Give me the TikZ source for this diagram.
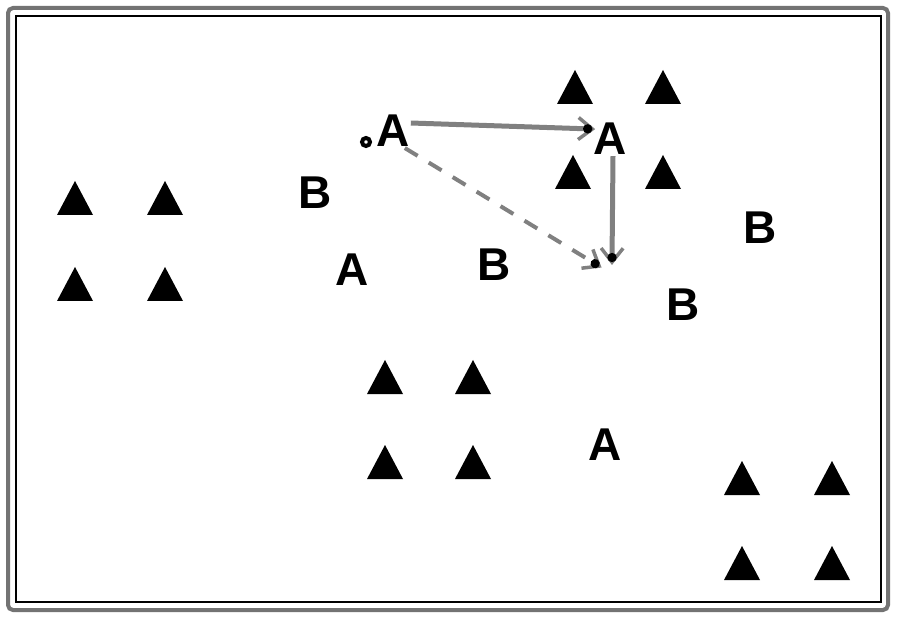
\documentclass[tikz,border=0pt]{standalone}
\usepackage{fontspec}
\setmainfont{Liberation Sans}
\usetikzlibrary{arrows.meta}
\begin{document}
\begin{tikzpicture}[x=1pt,y=-1pt,
    lbl/.style={font=\fontsize{46}{46}\selectfont\bfseries,inner sep=1pt},
    mv/.style={draw=black!50,line width=5pt,
      -{Straight Barb[length=14pt,width=22pt,line width=3.5pt,sep=-12pt]Circle[black,length=9pt]}}]
                \useasboundingbox (0,0) rectangle (900,620);
                \draw[black!55,line width=4pt,rounded corners=5pt] (8,8) rectangle (888,610);
                \draw[line width=2pt] (16,16) rectangle (881,602);
                % triangle groups
                \foreach \cx/\cy in {75/198,165/198,75/284,165/284,575/87,663/87,573/172,663/172,
                                     385/377,473/377,385/462,473/462,742/478,832/478,742/563,832/563}
                    \fill (\cx-18,\cy+17) -- (\cx+18,\cy+17) -- (\cx,\cy-17) -- cycle;
                % letters
                \node[lbl] (A1) at (393,131) {A};
                \node[lbl] (A2) at (610,139) {A};
                \node[lbl] (B1) at (315,193) {B};
                \node[lbl] (A3) at (352,270) {A};
                \node[lbl] (B2) at (494,265) {B};
                \node[lbl] (B3) at (760,228) {B};
                \node[lbl] (B4) at (683,305) {B};
                \node[lbl] (A4) at (605,445) {A};
                \draw[line width=4pt,fill=white] (366,142) circle (4pt) coordinate (dot);
                \coordinate (tgt) at (612,262);
                % movements
                \draw[mv] ([yshift=8pt]A1.east) -- ([yshift=10pt]A2.west);
                \draw[mv] ([xshift=3pt]A2.south) -- (tgt);
                \draw[mv,dash pattern=on 15pt off 13pt,line width=4pt] ([xshift=-6pt]A1.south east) -- ([xshift=-13pt,yshift=-4pt]tgt);
            \end{tikzpicture}
\end{document}
